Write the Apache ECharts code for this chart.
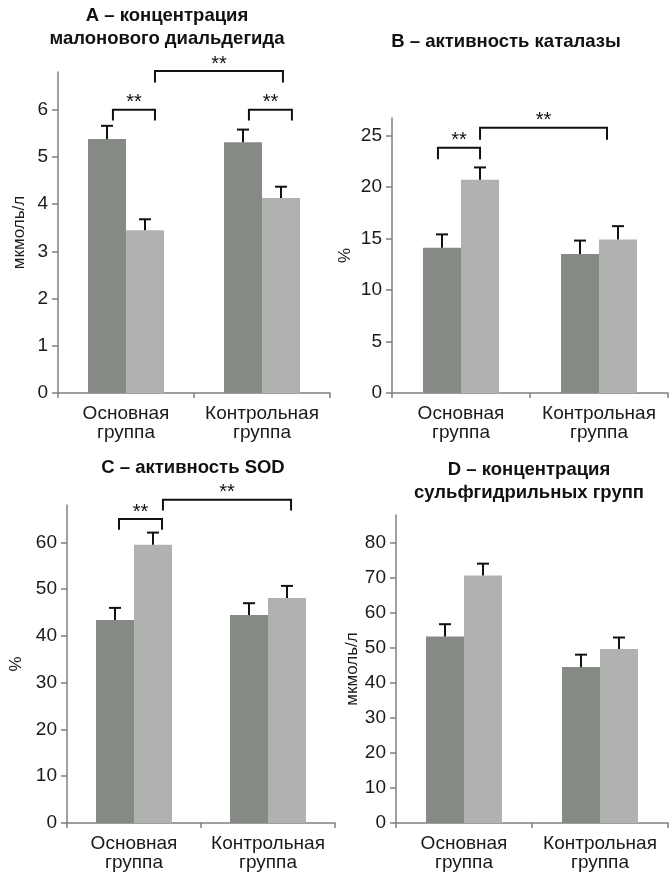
<!DOCTYPE html>
<html><head><meta charset="utf-8">
<script src="https://cdn.jsdelivr.net/npm/echarts@6/dist/echarts.min.js"></script>
<style>html,body{margin:0;padding:0;background:#fff}#c{width:669px;height:872px}</style>
</head><body><div id="c"></div>
<script>
// ---------- data ----------
const categories = ['Основная\nгруппа', 'Контрольная\nгруппа'];

const titleA = 'А – концентрация\nмалонового диальдегида';
const titleB = 'В – активность каталазы';
const titleC = 'С – активность SOD';
const titleD = 'D – концентрация\nсульфгидрильных групп';

const unitA = 'мкмоль/л', unitB = '%', unitC = '%', unitD = 'мкмоль/л';

const darkA = [5.38, 5.31];
const lightA = [3.45, 4.13];
const errDarkA = [0.28, 0.27];
const errLightA = [0.23, 0.24];

const darkB = [14.1, 13.5];
const lightB = [20.7, 14.9];
const errDarkB = [1.3, 1.3];
const errLightB = [1.2, 1.3];

const darkC = [43.4, 44.5];
const lightC = [59.5, 48.1];
const errDarkC = [2.6, 2.5];
const errLightC = [2.6, 2.6];

const darkD = [53.3, 44.6];
const lightD = [70.7, 49.7];
const errDarkD = [3.5, 3.5];
const errLightD = [3.4, 3.3];

const ticksA = [0, 1, 2, 3, 4, 5, 6];
const ticksB = [0, 5, 10, 15, 20, 25];
const ticksC = [0, 10, 20, 30, 40, 50, 60];
const ticksD = [0, 10, 20, 30, 40, 50, 60, 70, 80];

// significance brackets: [cat1, offset1, cat2, offset2, level, drop, label]
const sigA = [[0, -0.096, 0, 0.213, 6.0, 5.77, '**'], [0, 0.213, 1, 0.154, 6.82, 6.58, '**'], [1, -0.096, 1, 0.22, 6.0, 5.77, '**']];
const sigB = [[0, -0.167, 0, 0.138, 23.8, 22.7, '**'], [0, 0.138, 1, 0.058, 25.75, 24.6, '**']];
const sigC = [[0, -0.112, 0, 0.209, 65.0, 62.7, '**'], [0, 0.216, 1, 0.172, 69.1, 66.8, '**']];
const sigD = [];

// ---------- styling ----------
const DARK = '#868a84', LIGHT = '#b0b2af', AXIS = '#808080';
const BAR_W = 38, CAP = 6;
const FONT = '"Liberation Sans", Arial, Helvetica, sans-serif';

const panels = [
  {grid: {left: 58, top: 72, width: 272, height: 321}, max: 6.8, interval: 1, ticks: ticksA, unit: unitA, nameGap: 30,
   dark: darkA, light: lightA, ed: errDarkA, el: errLightA, sig: sigA},
  {grid: {left: 392, top: 118, width: 276, height: 275}, max: 26.7, interval: 5, ticks: ticksB, unit: unitB, nameGap: 38,
   dark: darkB, light: lightB, ed: errDarkB, el: errLightB, sig: sigB},
  {grid: {left: 67, top: 505, width: 268, height: 321}, max: 68, interval: 10, ticks: ticksC, unit: unitC, nameGap: 42,
   dark: darkC, light: lightC, ed: errDarkC, el: errLightC, sig: sigC},
  {grid: {left: 396, top: 515, width: 272, height: 310}, max: 88, interval: 10, ticks: ticksD, unit: unitD, nameGap: 35,
   dark: darkD, light: lightD, ed: errDarkD, el: errLightD, sig: sigD}
];

const grids = [], xAxes = [], yAxes = [], series = [];
panels.forEach((p, i) => {
  grids.push(Object.assign({containLabel: false}, p.grid));
  xAxes.push({
    type: 'category', gridIndex: i, data: categories,
    axisLine: {lineStyle: {color: AXIS, width: 1.5}},
    axisTick: {show: true, length: 5, lineStyle: {color: AXIS, width: 1.5}},
    axisLabel: {color: '#1a1a1a', fontFamily: FONT, fontSize: 19, lineHeight: 19, margin: 11, interval: 0}
  });
  yAxes.push({
    type: 'value', gridIndex: i, min: 0, max: p.max, interval: p.interval,
    name: p.unit, nameLocation: 'middle', nameGap: p.nameGap,
    nameTextStyle: {color: '#1a1a1a', fontFamily: FONT, fontSize: 17},
    splitLine: {show: false},
    axisLine: {show: true, lineStyle: {color: AXIS, width: 1.5}},
    axisTick: {show: true, length: 6, inside: false, customValues: p.ticks, lineStyle: {color: AXIS, width: 1.5}},
    axisLabel: {color: '#1a1a1a', fontFamily: FONT, fontSize: 19, margin: 10, customValues: p.ticks}
  });
  series.push({type: 'bar', xAxisIndex: i, yAxisIndex: i, data: p.dark, barWidth: BAR_W, barGap: '0%',
    itemStyle: {color: DARK}, silent: true, z: 2});
  series.push({type: 'bar', xAxisIndex: i, yAxisIndex: i, data: p.light, barWidth: BAR_W, barGap: '0%',
    itemStyle: {color: LIGHT}, silent: true, z: 2});
  const errData = [];
  categories.forEach((c, k) => {
    errData.push([k, p.dark[k], p.ed[k], -1]);
    errData.push([k, p.light[k], p.el[k], 1]);
  });
  series.push({
    type: 'custom', xAxisIndex: i, yAxisIndex: i, data: errData, z: 5, silent: true,
    encode: {x: 0, y: 1},
    renderItem: function (params, api) {
      const c = api.value(0), v = api.value(1), e = api.value(2), s = api.value(3);
      const base = api.coord([c, v]);
      const top = api.coord([c, v + e]);
      const x = base[0] + s * BAR_W / 2;
      const st = {stroke: '#111', lineWidth: 2};
      return {type: 'group', children: [
        {type: 'line', shape: {x1: x, y1: base[1], x2: x, y2: top[1]}, style: st},
        {type: 'line', shape: {x1: x - CAP, y1: top[1], x2: x + CAP, y2: top[1]}, style: st}
      ]};
    }
  });
  if (p.sig.length) {
    series.push({
      type: 'custom', xAxisIndex: i, yAxisIndex: i, data: p.sig, z: 6, silent: true, clip: false,
      encode: {x: 0, y: 4},
      renderItem: function (params, api) {
        const c1 = api.value(0), o1 = api.value(1), c2 = api.value(2), o2 = api.value(3);
        const lvl = api.value(4), drop = api.value(5);
        const label = p.sig[params.dataIndex][6];
        const p0 = api.coord([0, lvl]), p1 = api.coord([1, lvl]);
        const cw = p1[0] - p0[0];
        const ya = api.coord([c1, lvl])[1], yd = api.coord([c1, drop])[1];
        const xa = api.coord([c1, lvl])[0] + o1 * cw;
        const xb = api.coord([c2, lvl])[0] + o2 * cw;
        const st = {stroke: '#111', lineWidth: 2, fill: null};
        return {type: 'group', children: [
          {type: 'polyline', shape: {points: [[xa, yd], [xa, ya], [xb, ya], [xb, yd]]}, style: st},
          {type: 'text', x: (xa + xb) / 2, y: ya + 3,
           style: {text: label, align: 'center', verticalAlign: 'bottom', fill: '#111', font: '20px ' + FONT}}
        ]};
      }
    });
  }
});

const titleFont = 'bold 18.5px ' + FONT;
const graphics = [
  {type: 'text', x: 167, y: 27, style: {text: titleA, align: 'center', verticalAlign: 'middle', font: titleFont, lineHeight: 23, fill: '#111'}},
  {type: 'text', x: 506, y: 42, style: {text: titleB, align: 'center', verticalAlign: 'middle', font: titleFont, lineHeight: 23, fill: '#111'}},
  {type: 'text', x: 193, y: 468, style: {text: titleC, align: 'center', verticalAlign: 'middle', font: titleFont, lineHeight: 23, fill: '#111'}},
  {type: 'text', x: 529, y: 481, style: {text: titleD, align: 'center', verticalAlign: 'middle', font: titleFont, lineHeight: 23, fill: '#111'}}
];

const chart = echarts.init(document.getElementById('c'), null, {renderer: 'canvas'});
chart.setOption({
  animation: false,
  backgroundColor: '#fff',
  grid: grids, xAxis: xAxes, yAxis: yAxes, series: series,
  graphic: graphics
});
</script></body></html>
